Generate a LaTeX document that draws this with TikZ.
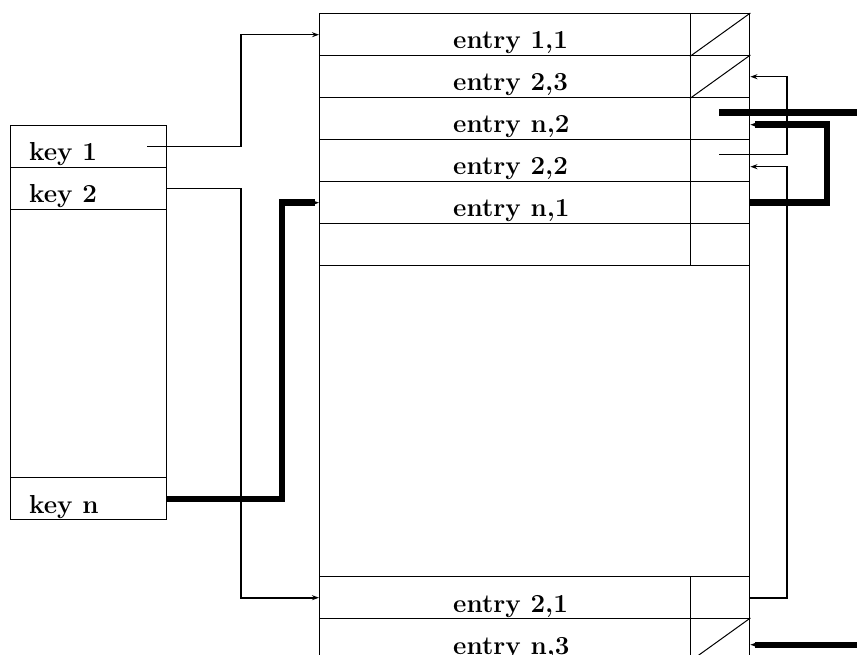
\documentclass[tikz,border=0pt]{standalone}
\usepackage{fontspec}
\usetikzlibrary{arrows.meta}
\tikzset{
    basecell/.style={draw, line width=1.4pt, anchor=north west, inner sep=0pt, minimum height=42pt},
    keycell/.style={basecell, minimum width=156pt},
    entrycell/.style={basecell, minimum width=371pt},
    ptrcell/.style={basecell, minimum width=59pt},
    celltext/.style={anchor=base west, inner sep=0pt, font=\fontsize{26}{30}\selectfont\bfseries},
    nilslash/.style={line width=1pt},
    link/.style={-{Stealth[length=7pt, width=5pt]}, line width=1.6pt},
    fatlink/.style={-{Stealth[length=7pt, width=5pt]}, line width=6.4pt}
}

\begin{document}
\begin{tikzpicture}[x=1pt, y=-1pt]

    \useasboundingbox (0,0) rectangle (857,655);

    % 1. Tabla de claves
    \node[keycell] (key1) at (10,125) {};
    \node[keycell] (key2) at (10,167) {};
    \node[keycell, minimum height=268pt] (keygap) at (10,209) {};
    \node[keycell] (keyn) at (10,477) {};
    \node[celltext] (key1txt) at (29,161) {key 1};
    \node[celltext] (key2txt) at (29,203) {key 2};
    \node[celltext] (keyntxt) at (29,513) {key n};

    % 2. Tabla de entradas (filas superiores)
    \node[entrycell] (e11) at (319,13) {};
    \node[ptrcell] (p11) at (690,13) {};
    \node[entrycell] (e23) at (319,55) {};
    \node[ptrcell] (p23) at (690,55) {};
    \node[entrycell] (en2) at (319,97) {};
    \node[ptrcell] (pn2) at (690,97) {};
    \node[entrycell] (e22) at (319,139) {};
    \node[ptrcell] (p22) at (690,139) {};
    \node[entrycell] (en1) at (319,181) {};
    \node[ptrcell] (pn1) at (690,181) {};
    \node[entrycell] (efree) at (319,223) {};
    \node[ptrcell] (pfree) at (690,223) {};

    % 3. Hueco y filas inferiores
    \node[basecell, minimum width=430pt, minimum height=311pt] (egap) at (319,265) {};
    \node[entrycell] (e21) at (319,576) {};
    \node[ptrcell] (p21) at (690,576) {};
    \node[entrycell] (en3) at (319,618) {};
    \node[ptrcell] (pn3) at (690,618) {};

    % Textos de las entradas
    \node[celltext] (e11txt) at (453,49) {entry 1,1};
    \node[celltext] (e23txt) at (453,91) {entry 2,3};
    \node[celltext] (en2txt) at (453,133) {entry n,2};
    \node[celltext] (e22txt) at (453,175) {entry 2,2};
    \node[celltext] (en1txt) at (453,217) {entry n,1};
    \node[celltext] (e21txt) at (453,612) {entry 2,1};
    \node[celltext] (en3txt) at (453,654) {entry n,3};

    % Punteros nulos
    \draw[nilslash] (p11.south west) -- (p11.north east);
    \draw[nilslash] (p23.south west) -- (p23.north east);
    \draw[nilslash] (pn3.south west) -- (pn3.north east);

    % ==========================================
    % Conexiones (Flechas)
    % ==========================================
    \coordinate (lanea) at (241,0);
    \coordinate (laneb) at (282,0);
    \coordinate (lanec) at (787,0);
    \coordinate (laned) at (827,0);
    \coordinate (rim) at (866,0);
    \coordinate (k1out) at ([xshift=-20pt]key1.east);
    \coordinate (p22in) at ([yshift=-6pt]p22.east);
    \coordinate (p22out) at ([xshift=-31pt, yshift=6pt]p22.east);
    \coordinate (pn2in) at ([yshift=-6pt]pn2.east);
    \coordinate (pn2out) at ([xshift=-31pt, yshift=6pt]pn2.east);
    \coordinate (pn3in) at ([yshift=-5pt]pn3.east);

    % Claves a primeras entradas
    \draw[link] (k1out) -- (k1out -| lanea) -- (lanea |- e11.west) -- (e11.west);
    \draw[link] (key2.east) -- (key2.east -| lanea) -- (lanea |- e21.west) -- (e21.west);
    \draw[fatlink] (keyn.east) -- (keyn.east -| laneb) -- (laneb |- en1.west) -- (en1.west);

    % Cadena 2
    \draw[link] (p21.east) -- (p21.east -| lanec) -- (lanec |- p22in) -- (p22in);
    \draw[link] (p22out) -- (p22out -| lanec) -- (lanec |- p23.east) -- (p23.east);

    % Cadena n
    \draw[fatlink] (pn1.east) -- (pn1.east -| laned) -- (laned |- pn2in) -- (pn2in);
    \draw[fatlink, -] (pn2out) -- (pn2out -| rim);
    \draw[fatlink] (rim |- pn3in) -- (pn3in);

\end{tikzpicture}
\end{document}
